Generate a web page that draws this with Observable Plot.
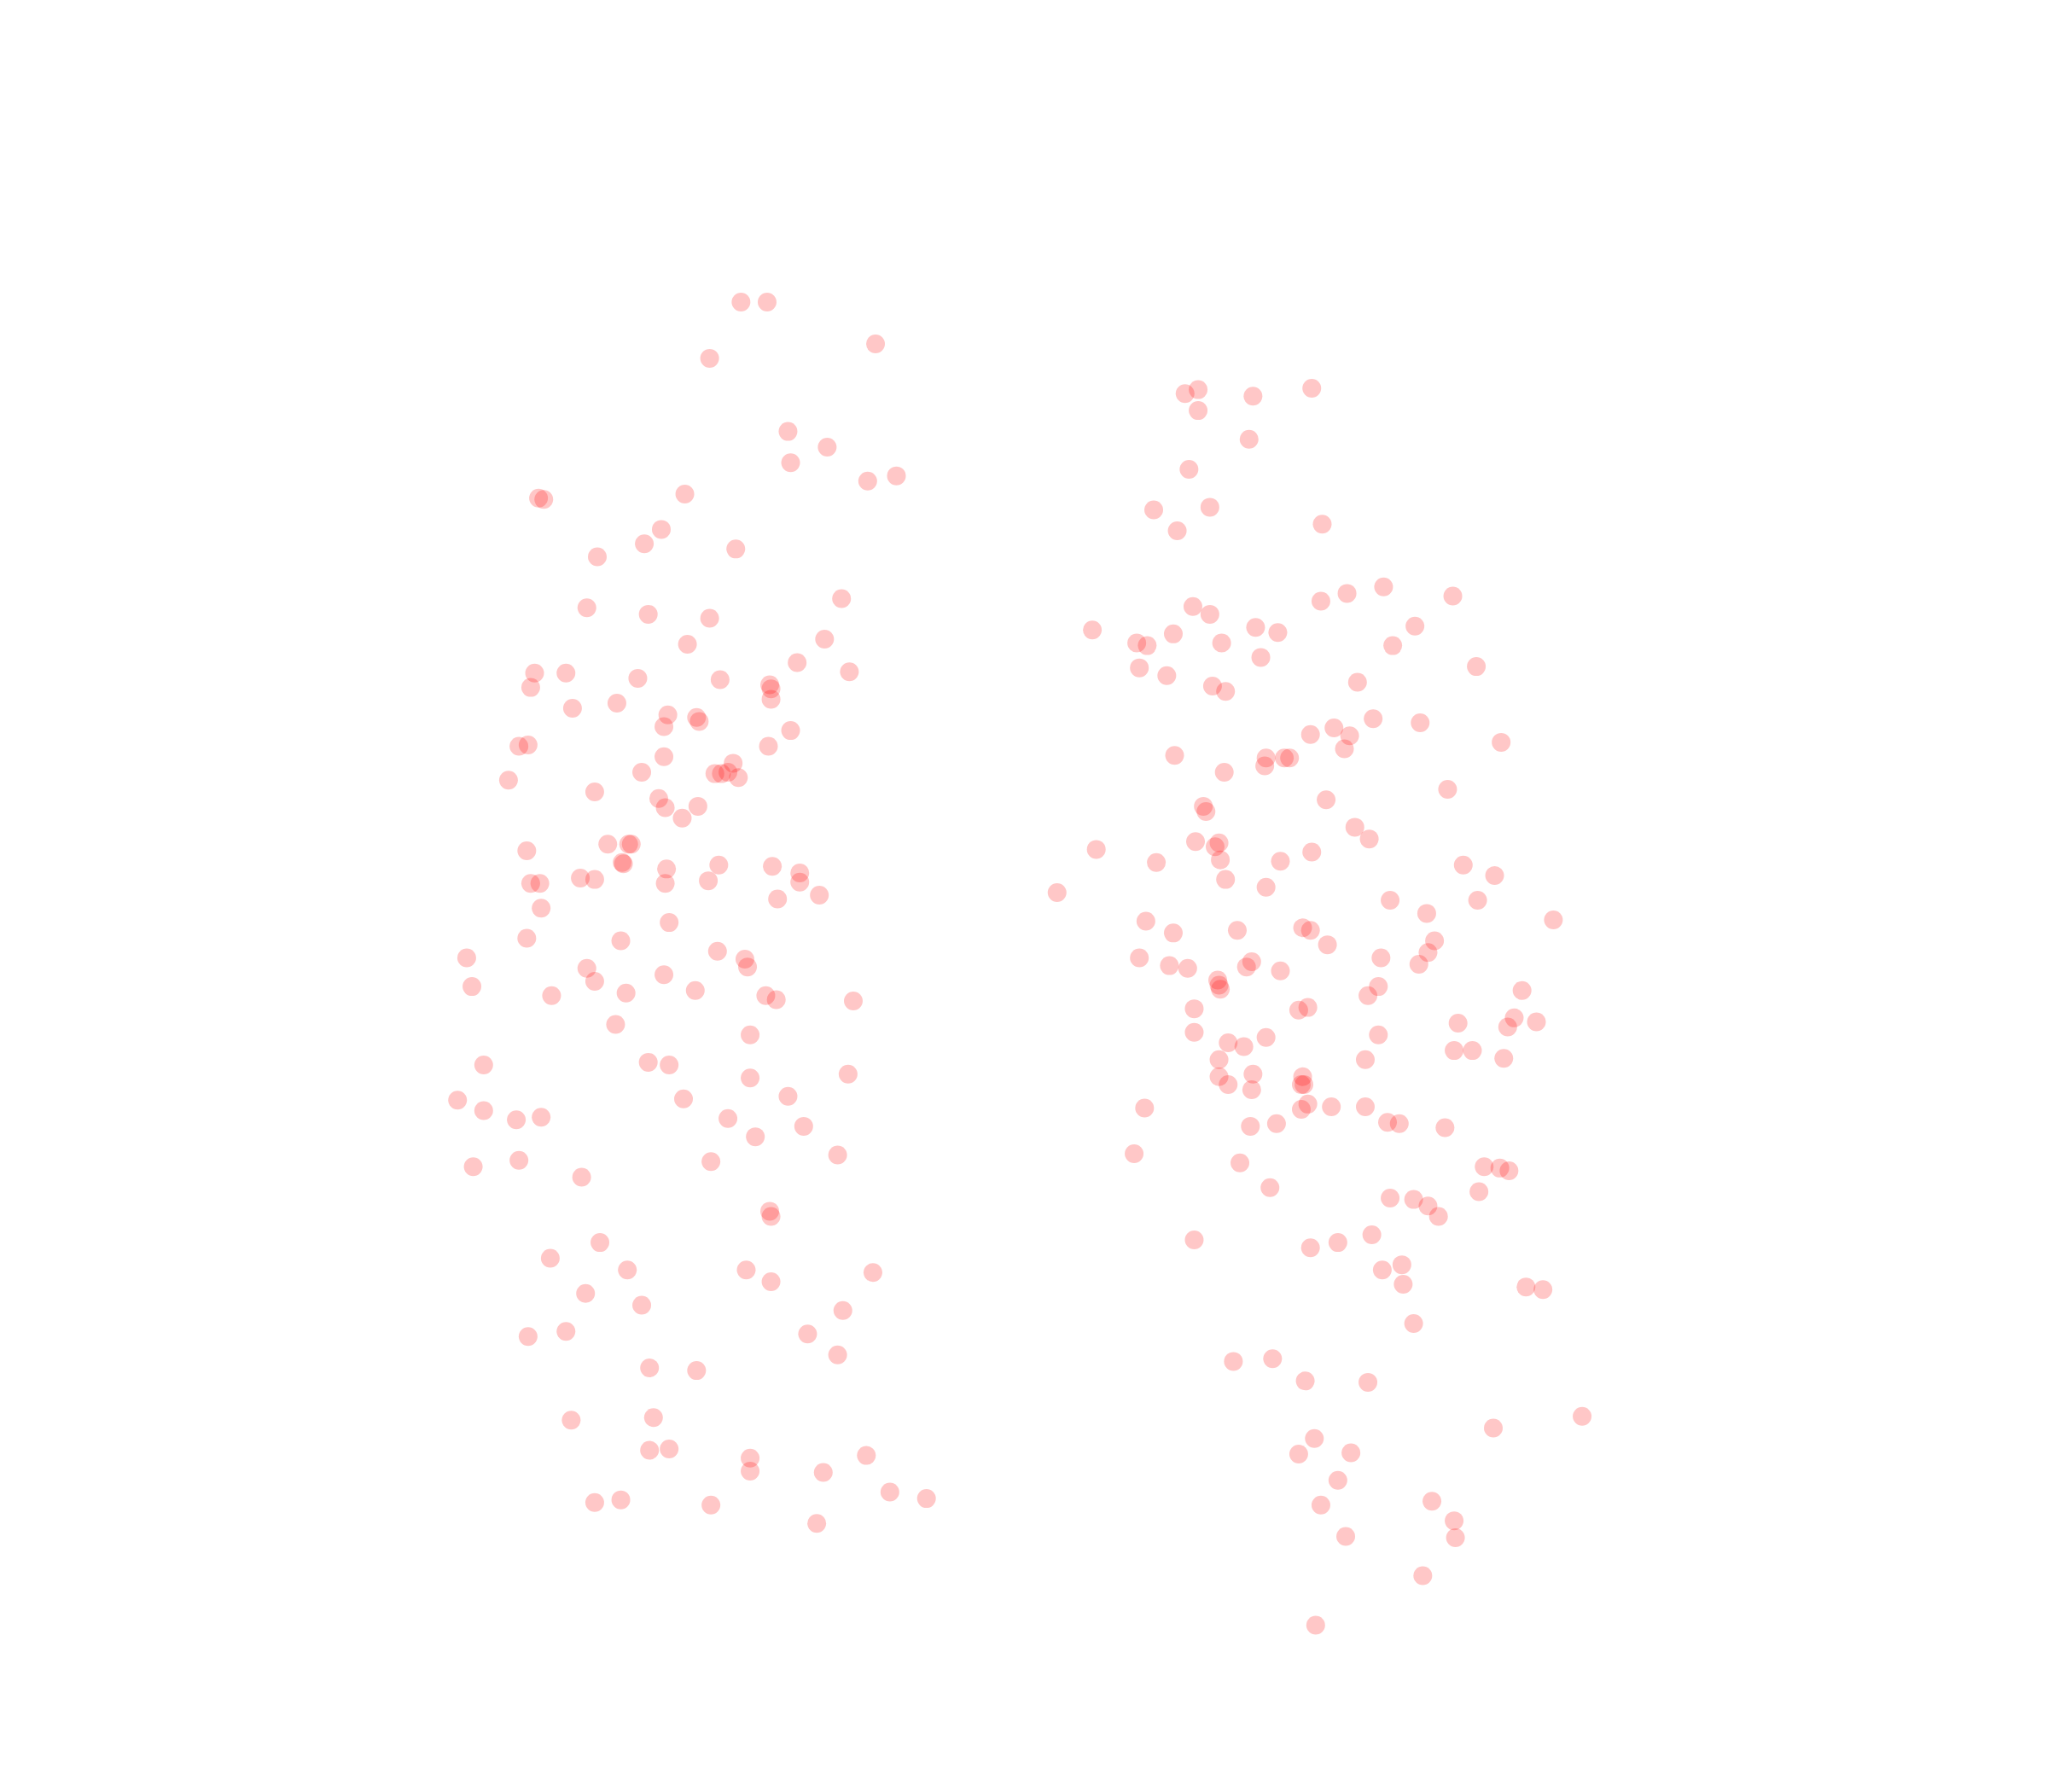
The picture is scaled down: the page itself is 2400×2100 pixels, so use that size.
<!DOCTYPE html>
<html>
<head>
<meta charset="utf-8">
<style>html,body{margin:0;padding:0;background:#fff}svg{display:block}</style>
<script src="https://cdn.jsdelivr.net/npm/d3@7"></script>
<script src="https://cdn.jsdelivr.net/npm/@observablehq/plot@0.6"></script>
</head>
<body>
<div id="chart"></div>
<script>
const leftX = [567,587,543,670,603,633,605,664,686,524,412,416,506,493,457,563,449,496,543,644,631,526,610,650,409,433,406,488,551,589,590,590,438,472,511,533,535,508,605,404,397,588,508,561,491,547,552,557,565,389,455,504,509,534,522,465,481,483,403,476,477,510,550,591,612,612,406,413,444,455,509,542,595,627,414,512,403,475,357,549,570,572,449,361,455,508,422,479,532,586,594,653,471,574,370,496,512,574,649,350,523,603,370,395,414,557,615,578,641,362,397,445,544,589,590,459,421,480,571,590,668,448,491,645,404,433,618,641,497,533,437,500,497,512,574,574,663,630,681,709,455,475,544,625];
const leftY = [231,231,274,263,330,342,354,368,364,378,381,382,405,416,426,420,465,470,473,458,489,493,507,514,515,515,526,519,520,524,527,535,542,538,547,549,552,556,559,570,571,571,579,584,591,592,592,591,595,597,606,611,618,617,626,646,646,646,651,660,661,665,662,663,668,675,676,676,672,673,676,674,688,685,695,706,718,720,733,728,734,740,741,755,751,746,762,760,758,762,765,766,784,792,815,813,815,825,822,842,841,839,850,857,855,856,862,870,884,893,888,901,889,927,931,951,963,972,972,981,974,990,999,1003,1023,1019,1021,1037,1047,1049,1087,1085,1110,1109,1116,1126,1114,1127,1142,1147,1150,1148,1152,1166];
const rightX = [907,917,917,959,1004,956,910,883,926,901,1012,913,926,1011,1031,1059,1112,1083,836,870,878,898,935,961,978,1066,965,872,893,1130,928,938,1039,1051,1021,1003,1033,1087,1029,1149,899,969,968,983,987,937,1108,1015,921,923,1037,1048,915,930,933,839,885,934,980,1004,1120,1144,938,969,809,1064,1131,1092,877,898,947,997,1003,1189,1016,1098,1093,872,895,909,954,958,980,1057,1086,932,933,934,1055,1047,1165,914,994,1001,1159,1116,1154,1176,914,940,952,969,1055,1113,1127,1151,933,1045,933,959,997,940,958,996,998,876,996,1001,1019,1045,957,977,1062,1071,1106,868,949,1136,1148,1155,972,1064,1082,1093,1101,1132,914,1003,1024,1050,1058,1073,1074,1168,1181,1082,944,974,999,1047,1143,1211,1006,994,1034,1024,1011,1096,1113,1114,1030,1089,1007];
const rightY = [301,298,314,303,297,336,359,390,388,406,401,464,470,460,454,449,456,479,482,492,494,485,492,480,484,494,503,511,517,510,525,529,522,550,557,562,563,553,573,568,578,580,586,580,580,591,604,612,617,621,633,642,644,648,645,650,660,658,659,652,662,670,673,679,683,689,689,699,705,714,712,710,712,704,723,720,729,733,739,741,740,736,743,733,738,750,754,757,755,762,758,772,773,771,779,783,786,782,790,798,801,794,792,804,804,810,811,811,824,822,824,830,834,830,830,848,849,845,847,847,862,860,859,860,863,883,890,893,894,896,909,917,918,923,931,912,949,955,951,945,972,968,983,985,987,1013,1042,1040,1057,1058,1093,1084,1101,1113,1112,1133,1152,1149,1164,1177,1176,1206,1244];

const xValues = leftX.concat(rightX);
const yValues = leftY.concat(rightY);

const chart = Plot.plot({
  width: 2400,
  height: 2100,
  margin: 0,
  x: {domain: [0, 1568], axis: null},
  y: {domain: [1372, 0], axis: null},
  marks: [
    Plot.dot(xValues.map((x, i) => ({x, y: yValues[i]})), {
      x: "x",
      y: "y",
      r: 11,
      fill: "#ff0000",
      fillOpacity: 0.22,
      stroke: "none"
    })
  ]
});
document.getElementById("chart").appendChild(chart);
</script>
</body>
</html>
